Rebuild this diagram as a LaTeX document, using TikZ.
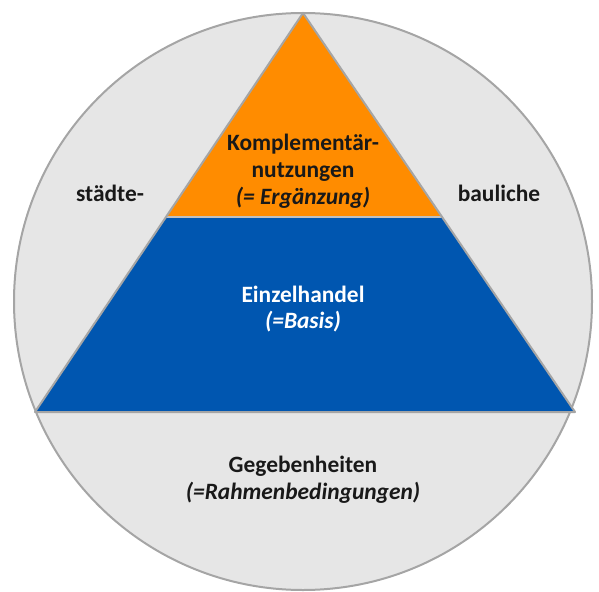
\documentclass[tikz,border=0pt]{standalone}
\usepackage{fontspec}
\setmainfont{Carlito}
\usetikzlibrary{positioning}
\definecolor{ringgray}{RGB}{230,230,230}
\definecolor{edgegray}{RGB}{165,165,165}
\definecolor{toporange}{RGB}{255,140,0}
\definecolor{baseblue}{RGB}{0,86,176}

\begin{document}
\begin{tikzpicture}[x=1bp, y=-1bp,
    blocktext/.style={align=center, inner sep=0pt, font=\fontsize{23.5}{27}\selectfont\bfseries},
    edge/.style={draw=edgegray, line width=2bp, line join=round}
]
\useasboundingbox (0,0) rectangle (599,592);
% ring
\draw[edge, fill=ringgray] (303,301.5) ellipse [x radius=289, y radius=288.5];
% pyramid
\coordinate (apex) at (303,13);
\coordinate (ml) at (166,217);
\coordinate (mr) at (442,217);
\coordinate (bl) at (35,412);
\coordinate (br) at (575,412);
\fill[toporange] (apex) -- (mr) -- (ml) -- cycle;
\fill[baseblue] (ml) -- (mr) -- (br) -- (bl) -- cycle;
\draw[edge, draw=edgegray!70] (ml) -- (mr);
\draw[edge] (apex) -- (br) -- (bl) -- cycle;

\node[blocktext, text=black!90] (komp) at (303,171) {Komplementär-\\nutzungen\\{\itshape (= Ergänzung)}};
\node[blocktext, text=white] (einzel) at (303,309) {Einzelhandel\\{\itshape (=Basis)}};
\node[blocktext, text=black!90] (gegeb) at (303,480) {Gegebenheiten\\{\itshape (=Rahmenbedingungen)}};
\node[blocktext, text=black!90] (staedte) at (110,193) {städte-};
\node[blocktext, text=black!90] (baul) at (499,193) {bauliche};
\end{tikzpicture}
\end{document}
